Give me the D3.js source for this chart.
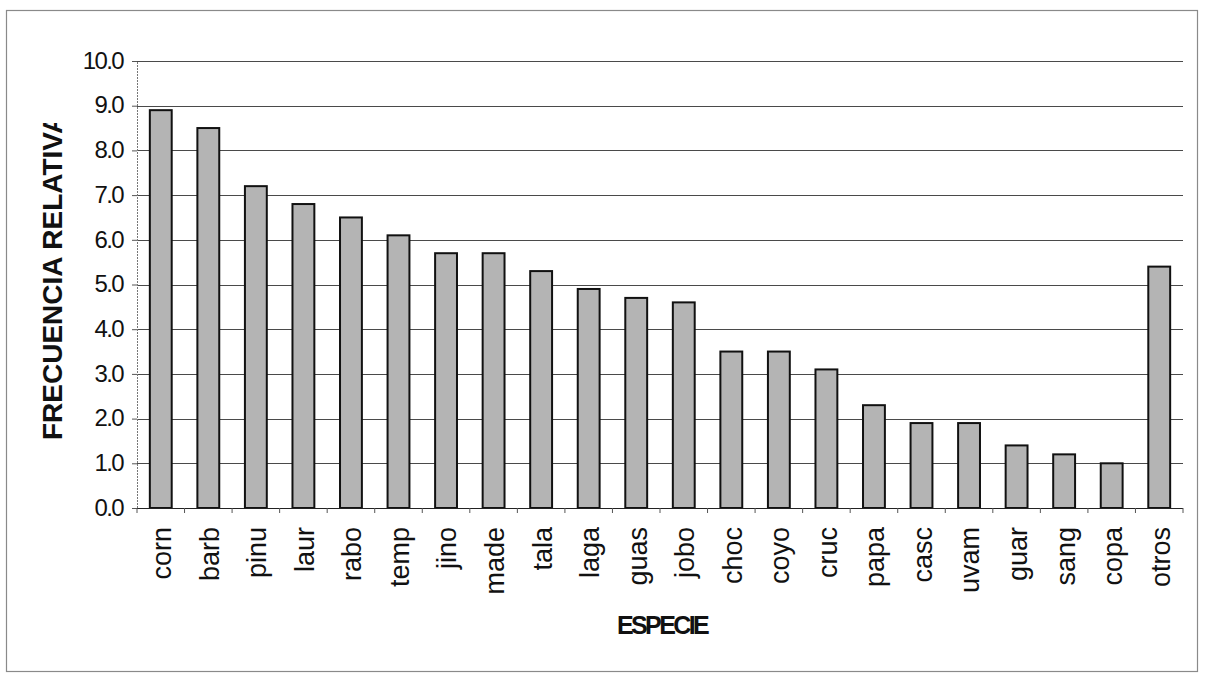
<!DOCTYPE html>
<html>
<head>
<meta charset="utf-8">
<script src="https://cdn.jsdelivr.net/npm/d3@7"></script>
<style>
  html, body { margin: 0; padding: 0; background: #fff; }
  svg { display: block; }
  text { font-family: "Liberation Sans", Arial, sans-serif; fill: #111; }
</style>
</head>
<body>
<svg id="chart" width="1206" height="685"></svg>
<script>
// Relative frequency (%) per tree species
const species = ["corn", "barb", "pinu", "laur", "rabo", "temp", "jino", "made", "tala", "laga", "guas",
                 "jobo", "choc", "coyo", "cruc", "papa", "casc", "uvam", "guar", "sang", "copa", "otros"];
const frequency = [8.9, 8.5, 7.2, 6.8, 6.5, 6.1, 5.7, 5.7, 5.3, 4.9, 4.7,
                   4.6, 3.5, 3.5, 3.1, 2.3, 1.9, 1.9, 1.4, 1.2, 1.0, 5.4];
const yTicks = [0, 1, 2, 3, 4, 5, 6, 7, 8, 9, 10];
const yTitle = "FRECUENCIA RELATIVA";
const xTitle = "ESPECIE";

const svg = d3.select("#chart");
const plot = { left: 137, right: 1183, top: 61, bottom: 508 };

// Outer chart frame
svg.append("rect")
  .attr("x", 6.5).attr("y", 10.5)
  .attr("width", 1191).attr("height", 661)
  .attr("fill", "none").attr("stroke", "#8a8a8a").attr("stroke-width", 1.2);

const x = d3.scaleBand()
  .domain(species)
  .range([plot.left, plot.right])
  .paddingInner(0.54)
  .paddingOuter(0.27);

const y = d3.scaleLinear()
  .domain([0, 10])
  .range([plot.bottom, plot.top]);

// Horizontal gridlines
svg.append("g")
  .selectAll("line")
  .data(yTicks.filter(d => d > 0))
  .join("line")
  .attr("x1", plot.left).attr("x2", plot.right)
  .attr("y1", d => Math.round(y(d)) + 0.5).attr("y2", d => Math.round(y(d)) + 0.5)
  .attr("stroke", "#4a4a4a").attr("stroke-width", 1);

// Bars
svg.append("g")
  .selectAll("rect")
  .data(species.map((s, i) => ({ s, v: frequency[i] })))
  .join("rect")
  .attr("x", d => x(d.s))
  .attr("y", d => y(d.v))
  .attr("width", x.bandwidth())
  .attr("height", d => y(0) - y(d.v))
  .attr("fill", "#b4b4b4")
  .attr("stroke", "#111")
  .attr("stroke-width", 2);

// Y axis
const yAxis = svg.append("g")
  .attr("transform", `translate(${plot.left},0)`)
  .call(d3.axisLeft(y).tickValues(yTicks).tickFormat(d3.format(".1f")).tickSize(5).tickPadding(9));
yAxis.select(".domain").attr("stroke", "#777").attr("stroke-dasharray", "2,1");
yAxis.selectAll(".tick line").attr("stroke", "#555");
yAxis.selectAll("text")
  .attr("dy", "0.3em")
  .style("font-size", "24px")
  .style("letter-spacing", "-1.6px")
  .attr("fill", "#111");

// X axis baseline and ticks at category boundaries
svg.append("line")
  .attr("x1", plot.left).attr("x2", plot.right)
  .attr("y1", y(0) + 0.5).attr("y2", y(0) + 0.5)
  .attr("stroke", "#222").attr("stroke-width", 1.2);
svg.append("g")
  .selectAll("line")
  .data(d3.range(species.length + 1))
  .join("line")
  .attr("x1", i => x.range()[0] + i * (x.range()[1] - x.range()[0]) / species.length)
  .attr("x2", i => x.range()[0] + i * (x.range()[1] - x.range()[0]) / species.length)
  .attr("y1", y(0)).attr("y2", y(0) + 5)
  .attr("stroke", "#555");

// Category labels, rotated
const xAxis = svg.append("g")
  .attr("transform", `translate(0,${plot.bottom})`)
  .call(d3.axisBottom(x).tickSize(0).tickPadding(0));
xAxis.select(".domain").remove();
xAxis.selectAll("text")
  .attr("transform", "rotate(-90)")
  .attr("x", -19)
  .attr("y", 1)
  .attr("dy", "0.35em")
  .attr("text-anchor", "end")
  .style("font-size", "27px")
  .attr("fill", "#111");

// Axis titles (the vertical one is cut at the top of its box)
svg.append("defs").append("clipPath").attr("id", "ytitle-clip")
  .append("rect").attr("x", 0).attr("y", 123).attr("width", 120).attr("height", 340);
svg.append("g")
  .attr("clip-path", "url(#ytitle-clip)")
  .append("text")
  .attr("transform", "translate(52,440) rotate(-90)")
  .attr("dy", "0.36em")
  .attr("text-anchor", "start")
  .style("font-size", "28px")
  .style("font-weight", "bold")
  .text(yTitle);

svg.append("text")
  .attr("x", 662).attr("y", 634)
  .attr("text-anchor", "middle")
  .style("font-size", "25px")
  .style("font-weight", "bold")
  .style("letter-spacing", "-2.6px")
  .text(xTitle);
</script>
</body>
</html>
